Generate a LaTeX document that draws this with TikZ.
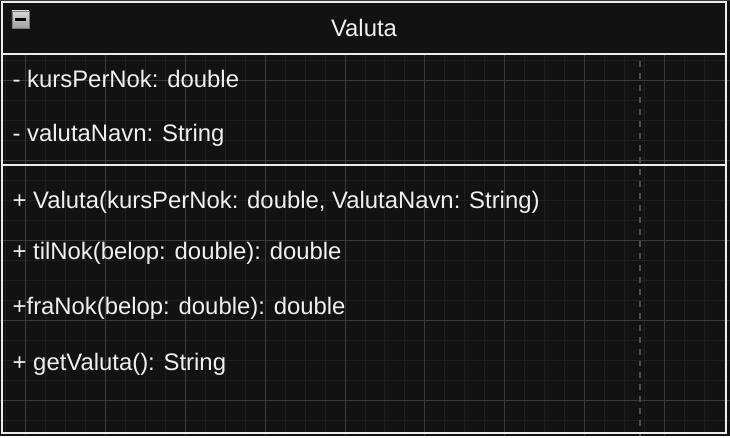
\documentclass[tikz,border=0pt]{standalone}
\usepackage{fontspec}
\setmainfont{Liberation Sans}
\usepackage{tikz}
\usetikzlibrary{positioning}
\definecolor{canvas}{RGB}{18,18,18}
\definecolor{gridminor}{RGB}{31,31,31}
\definecolor{gridmajor}{RGB}{58,58,58}
\definecolor{guide}{RGB}{78,78,78}
\definecolor{strich}{RGB}{236,236,236}
\definecolor{schrift}{RGB}{240,240,240}
\tikzset{
  member/.style={
    anchor=base west,
    inner sep=0pt,
    text=schrift,
    font=\fontsize{23.9}{28}\selectfont,
  },
  kopf/.style={
    anchor=base,
    inner sep=0pt,
    text=schrift,
    font=\fontsize{23.9}{28}\selectfont,
  },
  umriss/.style={
    draw=strich, line width=2pt
  },
  togglebox/.style={
    draw={rgb,255:red,120;green,120;blue,120}, line width=0.8pt,
    top color={rgb,255:red,215;green,215;blue,215},
    bottom color={rgb,255:red,160;green,160;blue,160},
    minimum width=17pt, minimum height=17pt, inner sep=0pt
  }
}

\begin{document}
\begin{tikzpicture}[x=1pt, y=1pt]

% Canvas
\fill[canvas] (0,0) rectangle (730,436);
\draw[gridminor, line width=1pt, shift={(5,16)}] (-5,-16) grid[step=20] (725,420);
\draw[gridmajor, line width=1pt, shift={(25,36)}] (-25,-36) grid[step=80] (705,400);
\draw[guide, line width=2pt, dash pattern=on 6pt off 6pt] (640,436) -- (640,0);

% Class
\fill[canvas] (2,383) rectangle (726,435);
\draw[umriss] (2,3) rectangle (726,435);
\draw[umriss] (2,383) -- (726,383);
\draw[umriss] (2,272) -- (726,272);

% Toggle
\node[togglebox] (toggle) at (20,417.5) {};
\draw[black, line width=2.6pt] (14.5,417.5) -- (25.5,417.5);

% Name
\node[kopf] (name) at (364,400.3) {Valuta};

% Attributes
\node[member] (kursPerNok) at (12,349.3) {- kursPerNok: double};
\node[member] (valutaNavn) at (12,295) {- valutaNavn: String};

% Operations
\node[member] (konstruktor) at (12,228.3) {+ Valuta(kursPerNok: double, ValutaNavn: String)};
\node[member] (tilNok) at (12,176.7) {+ tilNok(belop: double): double};
\node[member] (fraNok) at (12,121.7) {+fraNok(belop: double): double};
\node[member] (getValuta) at (12,65.7) {+ getValuta(): String};

\end{tikzpicture}
\end{document}
